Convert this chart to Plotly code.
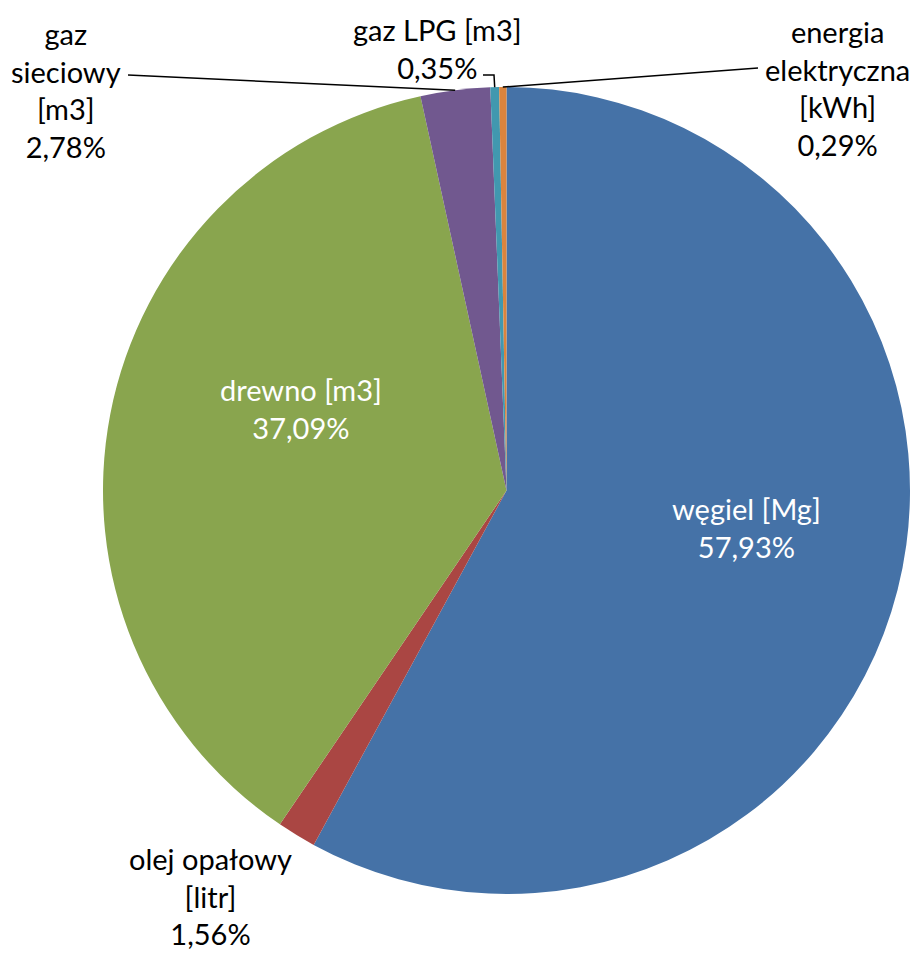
import math
import plotly.graph_objects as go

# Fuel shares (percent), listed clockwise from 12 o'clock
labels = ["węgiel [Mg]", "olej opałowy [litr]", "drewno [m3]",
          "gaz sieciowy [m3]", "gaz LPG [m3]", "energia elektryczna [kWh]"]
values = [57.93, 1.56, 37.09, 2.78, 0.35, 0.29]
colors = ["#4572A7", "#AA4643", "#89A54E", "#71588F", "#4198AF", "#DB843D"]

W, H = 912, 954
FONT = "Lato"
FS = 29

# pie placement in pixels
CX, CY, R = 506.5, 490.5, 403.5


def pct(v):
    return f"{v:.2f}".replace(".", ",") + "%"


def px2paper(x, y):
    return x / W, 1 - y / H


def arc_mid(i):
    """Pixel point on the rim at the middle of slice i."""
    total = sum(values)
    start = sum(values[:i]) / total
    frac = start + values[i] / total / 2
    ang = 2 * math.pi * frac
    return CX + R * math.sin(ang), CY - R * math.cos(ang)


fig = go.Figure(go.Pie(
    labels=labels,
    values=values,
    sort=False,
    direction="clockwise",
    rotation=0,
    marker=dict(colors=colors, line=dict(width=0)),
    textinfo="none",
    hoverinfo="label+percent",
    showlegend=False,
    domain=dict(x=[(CX - R) / W, (CX + R) / W],
                y=[1 - (CY + R) / H, 1 - (CY - R) / H]),
))

# data labels: text lines, text centre (px), colour, leader-line start (px)
callouts = {
    0: (["węgiel [Mg]"], (746, 527), "white", None),
    2: (["drewno [m3]"], (301, 408), "white", None),
    1: (["olej opałowy", "[litr]"], (210, 896), "black", None),
    3: (["gaz", "sieciowy", "[m3]"], (66, 90), "black", [(128, 75)]),
    4: (["gaz LPG [m3]"], (437, 49), "black", [(483, 75), (494, 75)]),
    5: (["energia", "elektryczna", "[kWh]"], (837, 88), "black", [(758, 68)]),
}

annotations = []
shapes = []
for i, (lines, (tx, ty), col, leader) in callouts.items():
    ax, ay = px2paper(tx, ty)
    annotations.append(dict(
        x=ax, y=ay, xref="paper", yref="paper",
        text="<br>".join(lines + [pct(values[i])]),
        showarrow=False, xanchor="center", yanchor="middle",
        font=dict(family=FONT, size=FS, color=col),
    ))
    if leader:
        pts = leader + [arc_mid(i)]
        path = ""
        for k, (x, y) in enumerate(pts):
            px_, py_ = px2paper(x, y)
            path += ("M" if k == 0 else "L") + f"{px_},{py_} "
        shapes.append(dict(type="path", path=path.strip(), xref="paper", yref="paper",
                           line=dict(color="black", width=1.5)))

fig.update_layout(
    width=W, height=H,
    margin=dict(l=0, r=0, t=0, b=0),
    paper_bgcolor="white",
    plot_bgcolor="white",
    annotations=annotations,
    shapes=shapes,
)

fig.write_html("out.html")
